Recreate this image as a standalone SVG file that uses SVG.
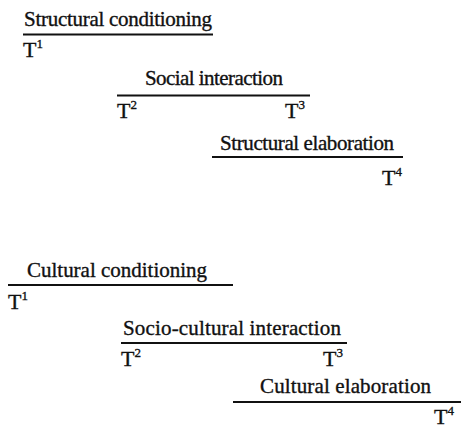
<svg xmlns="http://www.w3.org/2000/svg" width="461" height="426" viewBox="0 0 461 426">
  <style>
    text { font-family: "Liberation Serif", "Times New Roman", serif; fill: #111; stroke: #111; stroke-width: 0.35; }
    .lbl { font-size: 21px; }
    .t { font-size: 22px; }
    .sup { font-size: 13px; }
    .bar { stroke: #111; stroke-width: 2; fill: none; }
  </style>

  <!-- time-span bars -->
  <g id="connectors">
    <line class="bar" x1="23" y1="34.5" x2="213" y2="34.5"/>
    <line class="bar" x1="117" y1="95.5" x2="310" y2="95.5"/>
    <line class="bar" x1="212" y1="157" x2="403" y2="157"/>
    <line class="bar" x1="8" y1="285" x2="233" y2="285"/>
    <line class="bar" x1="121" y1="343" x2="347" y2="343"/>
    <line class="bar" x1="233" y1="402" x2="461" y2="402"/>
  </g>

  <!-- structural cycle -->
  <g id="structural-conditioning">
    <text class="lbl" x="24" y="26" textLength="188" lengthAdjust="spacing">Structural conditioning</text>
    <text class="t" x="23" y="57">T<tspan class="sup" dy="-9">1</tspan></text>
  </g>
  <g id="social-interaction">
    <text class="lbl" x="145" y="85" textLength="138" lengthAdjust="spacing">Social interaction</text>
    <text class="t" x="117" y="118">T<tspan class="sup" dy="-9">2</tspan></text>
    <text class="t" x="285" y="118">T<tspan class="sup" dy="-9">3</tspan></text>
  </g>
  <g id="structural-elaboration">
    <text class="lbl" x="220" y="150" textLength="174" lengthAdjust="spacing">Structural elaboration</text>
    <text class="t" x="382" y="185">T<tspan class="sup" dy="-9">4</tspan></text>
  </g>

  <!-- cultural cycle -->
  <g id="cultural-conditioning">
    <text class="lbl" x="27" y="277" textLength="180" lengthAdjust="spacing">Cultural conditioning</text>
    <text class="t" x="8" y="309">T<tspan class="sup" dy="-9">1</tspan></text>
  </g>
  <g id="socio-cultural-interaction">
    <text class="lbl" x="123" y="335" textLength="218" lengthAdjust="spacing">Socio-cultural interaction</text>
    <text class="t" x="121" y="366">T<tspan class="sup" dy="-9">2</tspan></text>
    <text class="t" x="323" y="366">T<tspan class="sup" dy="-9">3</tspan></text>
  </g>
  <g id="cultural-elaboration">
    <text class="lbl" x="260" y="393" textLength="171" lengthAdjust="spacing">Cultural elaboration</text>
    <text class="t" x="434" y="424">T<tspan class="sup" dy="-9">4</tspan></text>
  </g>
</svg>
